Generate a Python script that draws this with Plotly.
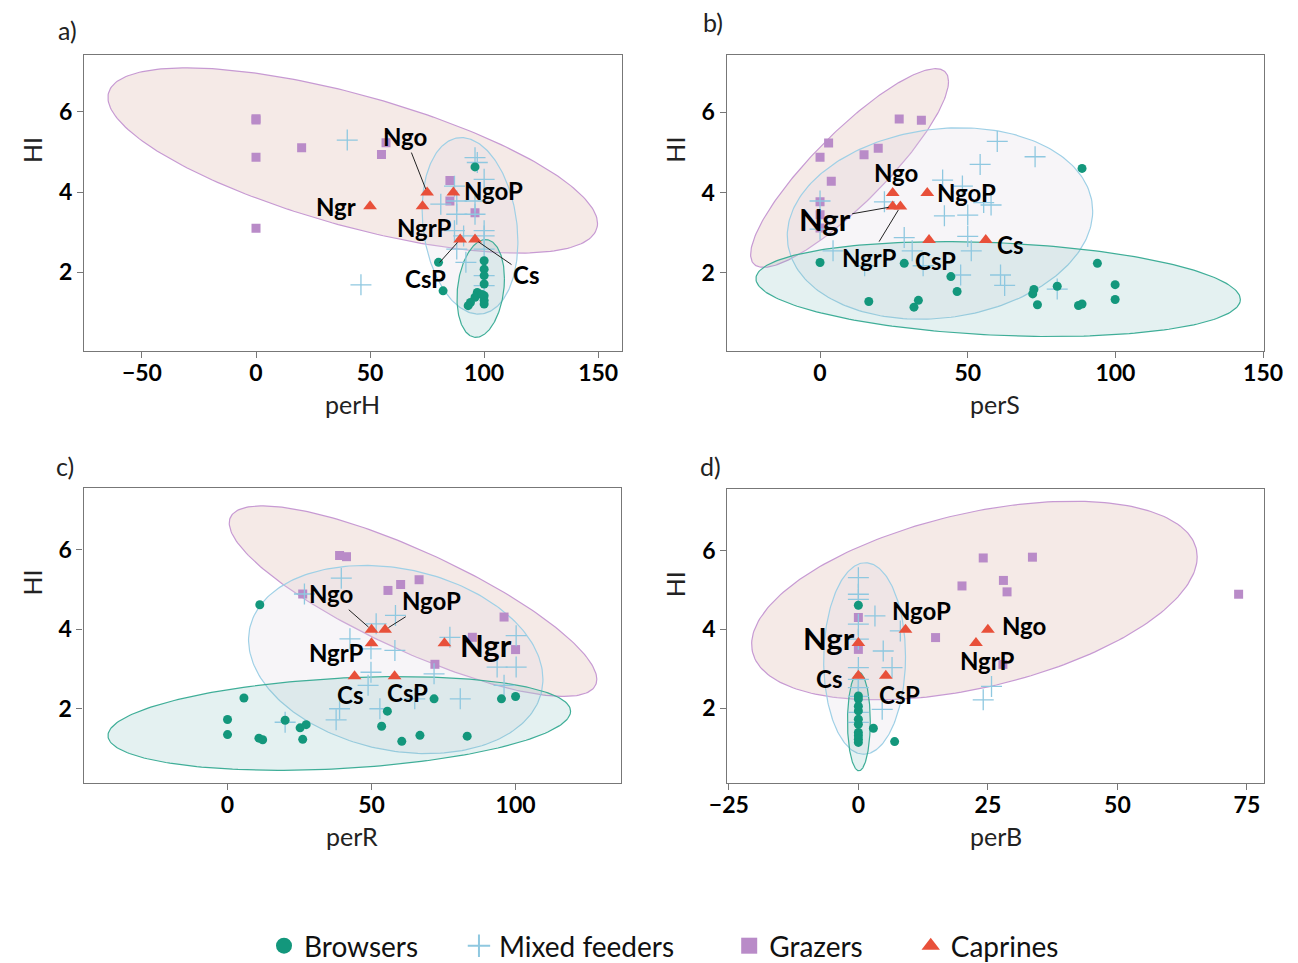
import numpy as np
import plotly.graph_objects as go

# ---------------- data ----------------
caprine_names = ["Ngo", "NgoP", "Ngr", "NgrP", "Cs", "CsP"]
caprine_hi = [3.99, 3.99, 3.65, 3.65, 2.82, 2.82]
caprine_perH = [75, 86.5, 50, 73, 96, 89.5]
caprine_perS = [24.6, 36.3, 24.6, 27.2, 56.1, 36.9]
caprine_perR = [50, 54.7, 75.3, 50, 44.1, 58]
caprine_perB = [25, 9.1, 0, 22.7, 0, 5.3]

# panel a: perH
perH_browsers_x = [96, 80, 82, 100, 100, 100, 100, 100, 100, 100, 97, 96, 94, 93, 99]
perH_browsers_hi = [4.63, 2.25, 1.54, 2.29, 2.08, 1.92, 1.71, 1.42, 1.30, 1.21, 1.50, 1.38, 1.25, 1.17, 1.45]
perH_mixed_x = [40, 46, 96, 97, 100, 87, 81, 88, 88, 96, 96, 87, 91, 100, 100, 88, 92, 100, 100, 100]
perH_mixed_hi = [5.30, 1.69, 4.86, 4.74, 4.32, 4.15, 3.70, 3.78, 3.45, 3.78, 3.45, 3.04, 2.91, 3.04, 2.91, 2.58, 2.25, 2.58, 1.92, 1.67]
perH_grazers_x = [0, 0, 0, 0, 20, 55, 57, 85, 85, 96]
perH_grazers_hi = [5.83, 5.80, 4.87, 3.10, 5.11, 4.94, 5.23, 4.29, 3.78, 3.49]

# panel b: perS
perS_browsers_x = [88.7, 0, 28.5, 44.3, 46.4, 16.5, 33.3, 31.8, 72.4, 72, 73.6, 80.3, 87.5, 88.7, 93.9, 99.9, 99.9]
perS_browsers_hi = [4.60, 2.26, 2.24, 1.91, 1.54, 1.29, 1.32, 1.15, 1.59, 1.48, 1.21, 1.67, 1.19, 1.23, 2.24, 1.71, 1.34]
perS_mixed_x = [60, 72.8, 54.2, 41.5, 48.2, 21.8, 55.4, 57.9, 42.1, 50, 0, 0, 28.5, 50, 4.4, 31.2, 51.2, 15.1, 34.9, 47.6, 61.1, 62.5, 80.3]
perS_mixed_hi = [5.27, 4.89, 4.70, 4.31, 4.16, 3.77, 3.75, 3.69, 3.42, 3.44, 3.79, 3.09, 2.88, 2.91, 2.55, 2.55, 2.55, 2.18, 2.18, 1.95, 1.95, 1.69, 1.60]
perS_grazers_x = [26.8, 34.3, 2.9, 19.7, 14.9, 0, 3.8, 0, 0, 0]
perS_grazers_hi = [5.83, 5.80, 5.23, 5.10, 4.94, 4.88, 4.28, 3.77, 3.45, 3.12]

# panel c: perR
perR_browsers_x = [11.2, 5.7, 0, 0, 10.9, 12.2, 20, 25.2, 27.3, 26.1, 55.5, 53.5, 60.5, 66.8, 71.7, 83.2, 95.1, 100]
perR_browsers_hi = [4.62, 2.27, 1.73, 1.35, 1.26, 1.22, 1.71, 1.52, 1.60, 1.23, 1.94, 1.56, 1.18, 1.33, 2.25, 1.31, 2.25, 2.31]
perR_mixed_x = [39.5, 26.7, 58.3, 51.6, 42.5, 77.2, 100.2, 49.8, 58.1, 93.6, 100.2, 49.8, 71.7, 48.8, 65, 80.8, 96, 38.9, 52.9, 37.7, 20]
perR_mixed_hi = [5.29, 4.89, 4.35, 4.14, 3.76, 3.80, 3.84, 3.51, 3.47, 3.05, 3.05, 2.92, 2.88, 2.59, 2.25, 2.25, 2.59, 2.0, 2.0, 1.72, 1.66]
perR_grazers_x = [38.9, 41.3, 66.5, 60.1, 55.7, 26.1, 96, 85, 100, 72]
perR_grazers_hi = [5.86, 5.83, 5.25, 5.13, 4.98, 4.89, 4.31, 3.80, 3.49, 3.12]

# panel d: perB
perB_browsers_x = [0, 0, 0, 0, 0, 0, 0, 0, 0, 0, 0, 2.9, 7]
perB_browsers_hi = [4.61, 2.31, 2.23, 1.93, 1.72, 1.59, 1.38, 1.30, 1.21, 1.13, 2.05, 1.49, 1.15]
perB_mixed_x = [0, 0, 0, 3.2, 0, 0, 8.1, 4.8, 6.5, 0, 0, 0, 4.6, 25.7, 24.1, 0, 0, 0]
perB_mixed_hi = [5.31, 4.89, 4.76, 4.34, 4.13, 3.75, 3.96, 3.45, 3.03, 3.03, 2.73, 2.52, 1.97, 2.55, 2.21, 1.89, 1.64, 2.3]
perB_grazers_x = [24.1, 33.6, 28, 20, 28.7, 73.4, 0, 14.9, 0, 27.9]
perB_grazers_hi = [5.81, 5.83, 5.24, 5.10, 4.95, 4.89, 4.30, 3.79, 3.49, 3.11]

# group ellipses: [centre x, centre HI, half-range x, half-range HI, correlation]
perH_ell_grazers = [42.4, 4.79, 107.3, 2.31, -0.68]
perH_ell_mixed = [93.8, 3.16, 21.0, 2.20, -0.18]
perH_ell_browsers = [98.5, 1.60, 10.4, 1.22, 0.2]
perS_ell_grazers = [10.0, 4.61, 33.5, 2.47, 0.87]
perS_ell_mixed = [40.6, 3.23, 51.7, 2.38, 0.13]
perS_ell_browsers = [60.3, 1.60, 82.0, 1.18, -0.22]
perR_ell_grazers = [64.4, 4.71, 63.8, 2.40, -0.82]
perR_ell_mixed = [58.4, 3.24, 51.1, 2.37, -0.21]
perR_ell_browsers = [38.8, 1.63, 80.3, 1.18, 0.26]
perB_ell_grazers = [22.4, 4.73, 43.0, 2.52, 0.44]
perB_ell_mixed = [1.2, 3.26, 7.9, 2.43, 0.02]
perB_ell_browsers = [0.1, 1.66, 2.2, 1.25, 0.0]

group_names = ["Browsers", "Mixed feeders", "Grazers", "Caprines"]
panel_letters = ["a)", "b)", "c)", "d)"]
x_titles = ["perH", "perS", "perR", "perB"]
y_title = "HI"
x_tickvals = [[-50, 0, 50, 100, 150], [0, 50, 100, 150], [0, 50, 100], [-25, 0, 25, 50, 75]]
y_tickvals = [2, 4, 6]

# ---------------- styling ----------------
PAGE_M = 8                      # default body margin of the html page
W, H = 1298 - 2 * PAGE_M, 963 - PAGE_M
FONT = "Lato"
C_BROW = "#13977c"
C_MIX = "#8fc8e0"
C_GRAZ = "#b98bc8"
C_CAP = "#e8503a"


def fx(px):
    return (px - PAGE_M) / W


def fy(py):
    return 1 - (py - PAGE_M) / H


# screen-pixel frames of each panel: (left, right, top, bottom)
frames = [(84, 621.7, 55, 351), (726.7, 1264, 55, 351),
          (83.5, 621, 488, 783), (727.3, 1264, 489, 783)]
x_ranges = [[-75.4, 160.3], [-31.6, 150.3], [-50.0, 136.6], [-25.3, 78.3]]
y_ranges = [[0.04, 7.42], [0.06, 7.42], [0.13, 7.56], [0.10, 7.56]]
letter_pos = [(67, 30), (713, 22), (65, 466), (710, 466)]

panels = [
    (perH_browsers_x, perH_browsers_hi, perH_mixed_x, perH_mixed_hi, perH_grazers_x, perH_grazers_hi,
     caprine_perH, perH_ell_grazers, perH_ell_mixed, perH_ell_browsers),
    (perS_browsers_x, perS_browsers_hi, perS_mixed_x, perS_mixed_hi, perS_grazers_x, perS_grazers_hi,
     caprine_perS, perS_ell_grazers, perS_ell_mixed, perS_ell_browsers),
    (perR_browsers_x, perR_browsers_hi, perR_mixed_x, perR_mixed_hi, perR_grazers_x, perR_grazers_hi,
     caprine_perR, perR_ell_grazers, perR_ell_mixed, perR_ell_browsers),
    (perB_browsers_x, perB_browsers_hi, perB_mixed_x, perB_mixed_hi, perB_grazers_x, perB_grazers_hi,
     caprine_perB, perB_ell_grazers, perB_ell_mixed, perB_ell_browsers),
]

S, L = 24, 31
label_pos = [
    {"Ngo": (-22, -56, True, S), "NgoP": (40, -2, False, S), "Ngr": (-34, 0, False, S),
     "NgrP": (2, 21, False, S), "Cs": (51, 35, True, S), "CsP": (-35, 39, True, S)},
    {"Ngo": (3, -20, False, S), "NgoP": (39, 0, False, S), "Ngr": (-68, 12, True, L),
     "NgrP": (-31, 51, True, S), "Cs": (24, 4, False, S), "CsP": (6, 20, False, S)},
    {"Ngo": (-41, -36, True, S), "NgoP": (46, -29, True, S), "Ngr": (42, 2, False, L),
     "NgrP": (-35, 9, False, S), "Cs": (-5, 18, False, S), "CsP": (13, 16, False, S)},
    {"Ngo": (36, -4, False, S), "NgoP": (16, -19, False, S), "Ngr": (-29, -5, False, L),
     "NgrP": (12, 17, False, S), "Cs": (-29, 3, False, S), "CsP": (14, 19, False, S)},
]

ell_styles = [
    ("rgba(215,172,162,0.26)", "#c79ad3"),   # grazers
    ("rgba(225,215,228,0.26)", "#9fd0e6"),   # mixed
    ("rgba(120,185,185,0.20)", "#3fae98"),   # browsers
]


def ellipse(params, n=240):
    cx, cy, sx, sy, rho = params
    t = np.linspace(0, 2 * np.pi, n)
    ex = cx + sx * np.cos(t)
    ey = cy + sy * (rho * np.cos(t) + np.sqrt(1 - rho ** 2) * np.sin(t))
    return ex, ey


fig = go.Figure()
annotations = []
layout_axes = {}

for i, p in enumerate(panels):
    bx, by, mx, my, gx, gy, cx_, egz, emx, ebr = p
    xa = "x" if i == 0 else f"x{i+1}"
    ya = "y" if i == 0 else f"y{i+1}"
    for par, (fc, lc) in zip([egz, emx, ebr], ell_styles):
        ex, ey = ellipse(par)
        fig.add_trace(go.Scatter(x=ex, y=ey, mode="lines", fill="toself", fillcolor=fc,
                                 line=dict(color=lc, width=1.2), hoverinfo="skip",
                                 showlegend=False, xaxis=xa, yaxis=ya))
    fig.add_trace(go.Scatter(x=gx, y=gy, mode="markers", showlegend=False, xaxis=xa, yaxis=ya,
                             marker=dict(symbol="square", size=9, color=C_GRAZ)))
    fig.add_trace(go.Scatter(x=mx, y=my, mode="markers", showlegend=False, xaxis=xa, yaxis=ya,
                             marker=dict(symbol="cross-thin", size=15, color=C_MIX,
                                         line=dict(color=C_MIX, width=1.3))))
    fig.add_trace(go.Scatter(x=bx, y=by, mode="markers", showlegend=False, xaxis=xa, yaxis=ya,
                             marker=dict(symbol="circle", size=9, color=C_BROW)))
    fig.add_trace(go.Scatter(x=cx_, y=caprine_hi, mode="markers", showlegend=False, xaxis=xa, yaxis=ya,
                             marker=dict(symbol="triangle-up", size=12, color=C_CAP)))

    for name, xv, yv in zip(caprine_names, cx_, caprine_hi):
        axp, ayp, line, fs = label_pos[i][name]
        annotations.append(dict(
            x=xv, y=yv, xref=xa, yref=ya, text=name, showarrow=True,
            ax=axp, ay=ayp, arrowhead=0, arrowwidth=1, standoff=4,
            arrowcolor="#222" if line else "rgba(0,0,0,0)",
            font=dict(family=FONT, size=fs, color="black", weight="bold")))

    l, r, t, b = frames[i]
    key_x = "xaxis" if i == 0 else f"xaxis{i+1}"
    key_y = "yaxis" if i == 0 else f"yaxis{i+1}"
    layout_axes[key_x] = dict(
        domain=[fx(l), fx(r)], range=x_ranges[i], anchor=ya,
        tickvals=x_tickvals[i], ticks="outside", ticklen=6, tickcolor="#777",
        ticklabelstandoff=-5,
        showline=True, mirror=True, linecolor="#777", linewidth=1.3,
        showgrid=False, zeroline=False, automargin=False,
        tickfont=dict(family=FONT, size=23, color="black", weight="bold"))
    layout_axes[key_y] = dict(
        domain=[fy(b), fy(t)], range=y_ranges[i], anchor=xa,
        tickvals=y_tickvals, ticks="outside", ticklen=6, tickcolor="#777",
        showline=True, mirror=True, linecolor="#777", linewidth=1.3,
        showgrid=False, zeroline=False, automargin=False,
        tickfont=dict(family=FONT, size=23, color="black", weight="bold"))

    annotations.append(dict(x=fx((l + r) / 2), y=fy(b + 53), xref="paper", yref="paper",
                            text=x_titles[i], showarrow=False, xanchor="center", yanchor="middle",
                            font=dict(family=FONT, size=25, color="#222")))
    annotations.append(dict(x=fx(l - 52), y=fy(t + 95), xref="paper", yref="paper",
                            text=y_title, showarrow=False, textangle=-90, xanchor="center", yanchor="middle",
                            font=dict(family=FONT, size=25, color="#222")))
    lx, ly = letter_pos[i]
    annotations.append(dict(x=fx(lx), y=fy(ly), xref="paper", yref="paper",
                            text=panel_letters[i], showarrow=False, xanchor="center", yanchor="middle",
                            font=dict(family=FONT, size=25, color="#222")))

# legend traces
leg_specs = [
    dict(symbol="circle", size=16, color=C_BROW),
    dict(symbol="cross-thin", size=26, color=C_MIX, line=dict(color=C_MIX, width=2)),
    dict(symbol="square", size=16, color=C_GRAZ),
    dict(symbol="triangle-up", size=18, color=C_CAP),
]
pads = [5, 7, 6, 0]
for name, ms, pd in zip(group_names, leg_specs, pads):
    fig.add_trace(go.Scatter(x=[None], y=[None], mode="markers",
                             name=name + "\u00a0" * pd, marker=ms,
                             showlegend=True, xaxis="x", yaxis="y"))

fig.update_layout(
    width=W, height=H,
    margin=dict(l=0, r=0, t=0, b=0, autoexpand=False),
    paper_bgcolor="white", plot_bgcolor="white",
    annotations=annotations,
    legend=dict(orientation="h", x=fx(664), xanchor="center", y=fy(946), yanchor="middle",
                font=dict(family=FONT, size=28, color="#111"), itemsizing="trace",
                traceorder="normal"),
    **layout_axes,
)

fig.write_html("out.html")
